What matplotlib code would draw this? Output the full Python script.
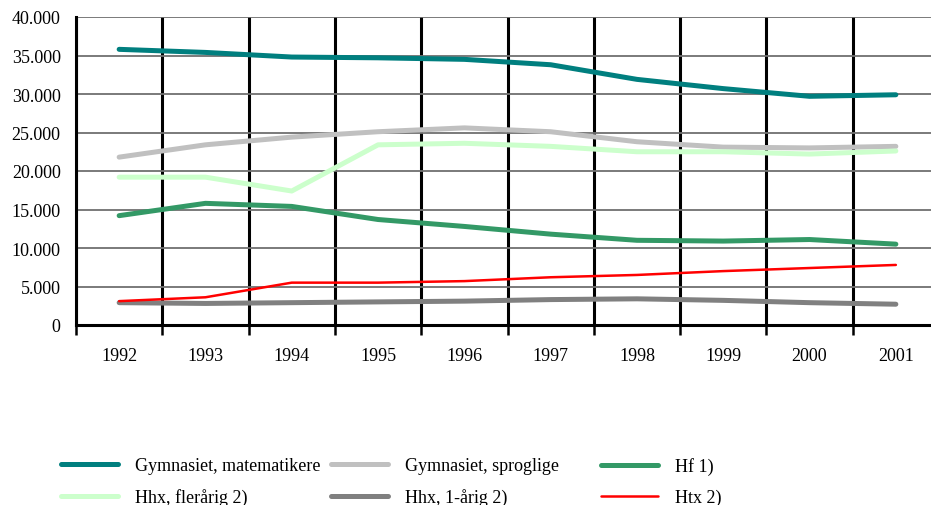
import matplotlib.pyplot as plt
from matplotlib.ticker import FuncFormatter

years = ['1992', '1993', '1994', '1995', '1996', '1997', '1998', '1999', '2000', '2001']

# Antal elever pr. uddannelse
gym_mat = [35800, 35400, 34800, 34700, 34500, 33800, 31900, 30700, 29700, 29900]
gym_spr = [21800, 23400, 24400, 25100, 25600, 25100, 23800, 23100, 23000, 23200]
hf = [14200, 15800, 15400, 13700, 12800, 11800, 11000, 10900, 11100, 10500]
hhx_fler = [19200, 19200, 17400, 23400, 23600, 23200, 22500, 22500, 22200, 22600]
hhx_1aar = [2900, 2800, 2900, 3000, 3100, 3300, 3400, 3200, 2900, 2700]
htx = [3100, 3600, 5500, 5500, 5700, 6200, 6500, 7000, 7400, 7800]

plt.rcParams['font.family'] = ['Liberation Serif', 'DejaVu Serif']

fig = plt.figure(figsize=(9.31, 5.06), dpi=100)
ax = fig.add_axes([76 / 931, 1 - 326 / 506, 863 / 931, 308 / 506])

x = list(range(len(years)))
series = [
    (gym_mat, '#007F7F', 3.6, 'Gymnasiet, matematikere'),
    (gym_spr, '#C0C0C0', 3.6, 'Gymnasiet, sproglige'),
    (hf, '#339966', 3.6, 'Hf 1)'),
    (hhx_fler, '#CCFFCC', 3.6, 'Hhx, flerårig 2)'),
    (hhx_1aar, '#808080', 3.6, 'Hhx, 1-årig 2)'),
    (htx, '#FF0000', 1.8, 'Htx 2)'),
]
lines = {}
for vals, col, lw, lab in series:
    ln, = ax.plot(x, vals, color=col, lw=lw, label=lab, solid_capstyle='round', zorder=3)
    lines[lab] = ln

ax.set_xlim(-0.5, 9.5)
ax.set_ylim(0, 40000)
ax.set_yticks(range(0, 40001, 5000))
ax.yaxis.set_major_formatter(FuncFormatter(lambda v, p: f'{int(v):,}'.replace(',', '.')))
ax.set_xticks(x)
ax.set_xticklabels(years)
ax.set_xticks([i - 0.5 for i in range(11)], minor=True)

ax.tick_params(axis='y', length=0, labelsize=13, pad=11)
ax.tick_params(axis='x', which='major', length=0, labelsize=13, pad=16)
ax.tick_params(axis='x', which='minor', length=7, width=1.8, direction='out', color='black')

ax.grid(axis='y', color='#707070', lw=1.3, zorder=1)
ax.grid(axis='x', which='minor', color='black', lw=2.2, zorder=1)

for s in ['top', 'right']:
    ax.spines[s].set_visible(False)
ax.spines['left'].set_linewidth(2.2)
ax.spines['bottom'].set_linewidth(2.2)

cols = [['Gymnasiet, matematikere', 'Hhx, flerårig 2)'],
        ['Gymnasiet, sproglige', 'Hhx, 1-årig 2)'],
        ['Hf 1)', 'Htx 2)']]
for xpos, labs in zip([52, 322, 592], cols):
    leg = fig.legend([lines[l] for l in labs], labs, loc='upper left',
                     bbox_to_anchor=(xpos / 931, 1 - 449 / 506), frameon=False,
                     fontsize=13, handlelength=3.15, handletextpad=0.95,
                     labelspacing=0.78, borderpad=0)

fig.savefig('out.png', dpi=100)
